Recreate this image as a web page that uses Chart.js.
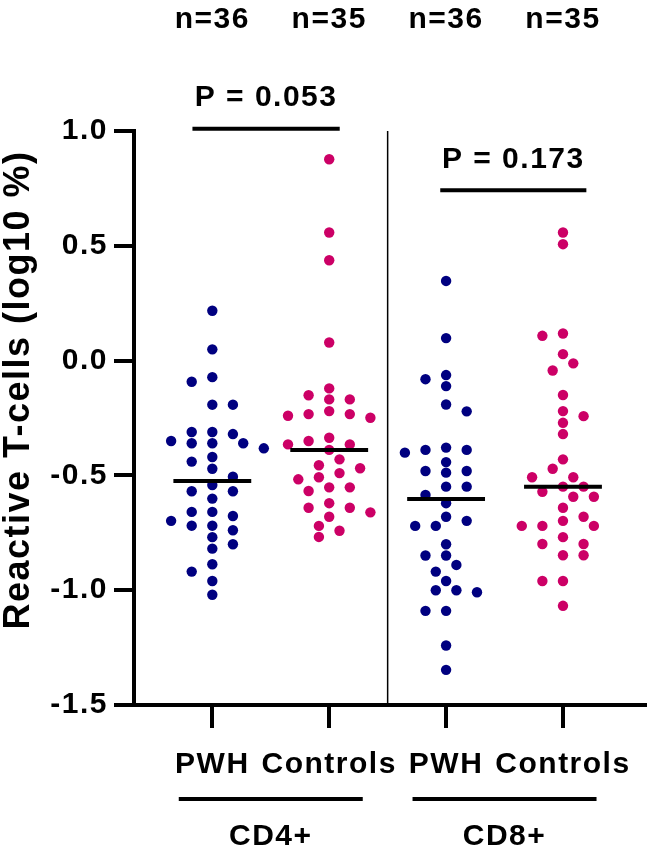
<!DOCTYPE html>
<html>
<head>
<meta charset="utf-8">
<script src="https://cdn.jsdelivr.net/npm/chart.js@4.4.1/dist/chart.umd.min.js"></script>
<style>
  body { margin: 0; background: #fff; }
  canvas { display: block; }
</style>
</head>
<body>
<canvas id="myChart" width="650" height="858"></canvas>
<script>
// groups on the x axis
const categories = ['PWH', 'Controls', 'PWH', 'Controls'];
const groupNames = ['CD4+', 'CD8+'];

// reactive T-cells, log10 %
const cd4Pwh = [0.217, 0.049, -0.092, -0.072, -0.192, -0.192, -0.311, -0.311, -0.320,
  -0.360, -0.360, -0.360, -0.350, -0.382, -0.420, -0.440, -0.471, -0.506, -0.542,
  -0.569, -0.569, -0.601, -0.659, -0.659, -0.677, -0.698, -0.719, -0.719, -0.739,
  -0.769, -0.800, -0.819, -0.887, -0.919, -0.960, -1.020];
const cd4Controls = [0.877, 0.558, 0.437, 0.079, -0.121, -0.169, -0.151, -0.169, -0.240,
  -0.220, -0.233, -0.233, -0.249, -0.336, -0.365, -0.365, -0.350, -0.389, -0.430,
  -0.456, -0.490, -0.469, -0.508, -0.517, -0.552, -0.552, -0.568, -0.621, -0.641,
  -0.661, -0.641, -0.680, -0.720, -0.741, -0.768];
const cd8Pwh = [0.347, 0.098, -0.063, -0.111, -0.081, -0.191, -0.221, -0.389, -0.389,
  -0.401, -0.379, -0.442, -0.488, -0.481, -0.481, -0.549, -0.549, -0.585, -0.621,
  -0.680, -0.720, -0.720, -0.698, -0.800, -0.849, -0.849, -0.890, -0.919, -0.960,
  -1.009, -1.000, -1.000, -1.090, -1.090, -1.241, -1.347];
const cd8Controls = [0.558, 0.507, 0.108, 0.118, 0.028, -0.012, -0.043, -0.150, -0.220,
  -0.242, -0.271, -0.320, -0.430, -0.471, -0.508, -0.508, -0.549, -0.549, -0.571,
  -0.593, -0.593, -0.641, -0.680, -0.698, -0.720, -0.720, -0.720, -0.769, -0.799,
  -0.799, -0.848, -0.848, -0.960, -0.960, -1.068];

const series = [cd4Pwh, cd4Controls, cd8Pwh, cd8Controls];
const colors = ['#000080', '#cc0066', '#000080', '#cc0066'];

// p-value brackets (x span in category units, y in log10 %)
const pLabels = ['P = 0.053', 'P = 0.173'];
const pSpans = [[0.83, 2.09], [2.95, 4.2]];
const pLevels = [1.01, 0.742];

const FONT = '"Liberation Sans", Arial, sans-serif';

function median(arr) {
  const s = arr.slice().sort((a, b) => a - b);
  const m = Math.floor(s.length / 2);
  return s.length % 2 ? s[m] : (s[m - 1] + s[m]) / 2;
}

const datasets = [];
series.forEach(function (vals, i) {
  datasets.push({
    type: 'scatter',
    data: vals.map(v => ({ x: i + 1, y: v })),
    backgroundColor: colors[i],
    borderWidth: 0,
    pointRadius: 5.2,
    pointHoverRadius: 5.2,
    order: 2,
    clip: false
  });
});
series.forEach(function (vals, i) {
  const m = median(vals);
  datasets.push({
    type: 'line',
    data: [{ x: i + 1 - 0.333, y: m }, { x: i + 1 + 0.333, y: m }],
    borderColor: '#000',
    borderWidth: 4,
    pointRadius: 0,
    order: 0,
    clip: false
  });
});
pSpans.forEach(function (sp, i) {
  datasets.push({
    type: 'line',
    data: [{ x: sp[0], y: pLevels[i] }, { x: sp[1], y: pLevels[i] }],
    borderColor: '#000',
    borderWidth: 4,
    pointRadius: 0,
    order: 0,
    clip: false
  });
});
// divider between CD4+ and CD8+
datasets.push({
  type: 'line',
  data: [{ x: 2.5, y: -1.5 }, { x: 2.5, y: 1.0 }],
  borderColor: '#000',
  borderWidth: 1.5,
  pointRadius: 0,
  order: 3,
  clip: false
});

const spacingPlugin = {
  id: 'spacing',
  beforeDraw(chart) { chart.ctx.letterSpacing = '1.5px'; }
};

const textPlugin = {
  id: 'texts',
  afterDraw(chart) {
    const ctx = chart.ctx, xs = chart.scales.x, ys = chart.scales.y;
    ctx.save();
    ctx.letterSpacing = '1.5px';
    ctx.fillStyle = '#000';
    ctx.strokeStyle = '#000';
    ctx.textAlign = 'center';
    ctx.textBaseline = 'middle';
    ctx.font = 'bold 30px ' + FONT;
    series.forEach(function (s, i) {
      ctx.fillText('n=' + s.length, xs.getPixelForValue(i + 1), 20);
    });
    pLabels.forEach(function (t, i) {
      const cx = xs.getPixelForValue((pSpans[i][0] + pSpans[i][1]) / 2);
      ctx.fillText(t, cx, ys.getPixelForValue(pLevels[i]) - 31);
    });
    groupNames.forEach(function (g, i) {
      const c = (xs.getPixelForValue(2 * i + 1) + xs.getPixelForValue(2 * i + 2)) / 2;
      ctx.lineWidth = 4;
      ctx.beginPath();
      ctx.moveTo(c - 92, 799);
      ctx.lineTo(c + 92, 799);
      ctx.stroke();
      ctx.fillText(g, c, 837);
    });
    ctx.translate(19, 390);
    ctx.rotate(-Math.PI / 2);
    ctx.font = 'bold 36px ' + FONT;
    ctx.fillText('Reactive T-cells (log10 %)', 0, 0);
    ctx.restore();
  }
};

const config = {
  type: 'scatter',
  data: { datasets: datasets },
  options: {
    responsive: false,
    animation: false,
    layout: { padding: { top: 131, right: 0, left: 0, bottom: 0 } },
    plugins: { legend: { display: false }, tooltip: { enabled: false } },
    scales: {
      x: {
        type: 'linear',
        min: 0.33,
        max: 4.7,
        afterFit: function (s) { s.height = 153; },
        afterBuildTicks: function (s) { s.ticks = categories.map((c, i) => ({ value: i + 1 })); },
        ticks: {
          autoSkip: false,
          maxRotation: 0,
          padding: 19,
          color: '#000',
          font: { family: FONT, size: 30, weight: 'bold' },
          callback: function (v, i) { return categories[i]; }
        },
        grid: { drawOnChartArea: false, drawTicks: true, tickLength: 23, color: '#000', lineWidth: 4 },
        border: { display: true, color: '#000', width: 4 }
      },
      y: {
        min: -1.5,
        max: 1.0,
        afterFit: function (s) { s.width = 134; },
        ticks: {
          stepSize: 0.5,
          padding: 6,
          color: '#000',
          font: { family: FONT, size: 30, weight: 'bold' },
          callback: function (v) { return v.toFixed(1); }
        },
        grid: { drawOnChartArea: false, drawTicks: true, tickLength: 20, color: '#000', lineWidth: 4 },
        border: { display: true, color: '#000', width: 4 }
      }
    }
  },
  plugins: [spacingPlugin, textPlugin]
};

const ctx = document.getElementById('myChart');
const chart = new Chart(ctx, config);

// spread the dots sideways (beeswarm) so they don't overlap
function swarm(vals, center) {
  const xs = chart.scales.x, ys = chart.scales.y;
  const unit = xs.getPixelForValue(1) - xs.getPixelForValue(0);
  const step = 10.3;
  const placed = [];
  const out = new Array(vals.length);
  let leftFirst = true;
  const idx = vals.map((v, i) => i).sort((a, b) => vals[b] - vals[a]);
  idx.forEach(function (i) {
    const py = ys.getPixelForValue(vals[i]);
    let off = 0;
    for (let k = 0; k < 30; k++) {
      const mag = Math.ceil(k / 2) * step;
      const sign = (k % 2 === 1) === leftFirst ? -1 : 1;
      const cand = k === 0 ? 0 : sign * mag;
      const ok = placed.every(p => Math.pow((p.x - cand) / 20, 2) + Math.pow((p.y - py) / 10.5, 2) >= 1);
      if (ok) { off = cand; break; }
    }
    if (off !== 0) leftFirst = !leftFirst;
    placed.push({ x: off, y: py });
    out[i] = center + off / unit;
  });
  return out;
}

series.forEach(function (vals, i) {
  const xv = swarm(vals, i + 1);
  chart.data.datasets[i].data = vals.map((v, j) => ({ x: xv[j], y: v }));
});
chart.update('none');
</script>
</body>
</html>
